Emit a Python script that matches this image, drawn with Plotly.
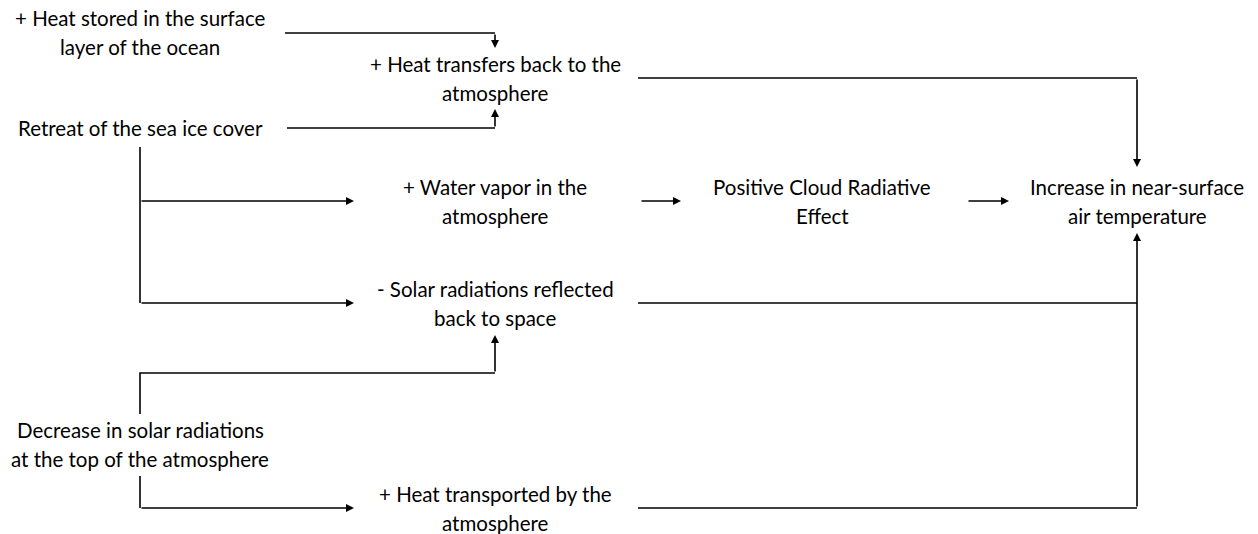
import plotly.graph_objects as go

# Node labels (each entry = list of text lines) and their centre positions (pixel canvas)
node_ids = ["ocean", "transfer", "seaice", "vapor", "cloud", "temp", "solarref", "solartop", "transport"]
node_lines = [
    ["+ Heat stored in the surface", "layer of the ocean"],
    ["+ Heat transfers back to the", "atmosphere"],
    ["Retreat of the sea ice cover"],
    ["+ Water vapor in the", "atmosphere"],
    ["Positive Cloud Radiative", "Effect"],
    ["Increase in near-surface", "air temperature"],
    ["- Solar radiations reflected", "back to space"],
    ["Decrease in solar radiations", "at the top of the atmosphere"],
    ["+ Heat transported by the", "atmosphere"],
]
node_x = [140, 495, 140, 495, 822, 1137, 495, 140, 495]
node_y = [32, 78, 128, 201, 201, 201, 303, 444, 508]

# Connector routes: waypoints; last segment carries arrow if arrow flag True
edge_paths = [
    [(285, 33), (495, 33), (495, 48)],
    [(287, 128), (495, 128), (495, 109)],
    [(638, 78), (1137, 78), (1137, 167)],
    [(140, 147), (140, 303)],
    [(140, 201), (354, 201)],
    [(140, 303), (354, 303)],
    [(640, 201), (681, 201)],
    [(967, 201), (1009, 201)],
    [(638, 303), (1137, 303)],
    [(638, 508), (1137, 508)],
    [(1137, 508), (1137, 233)],
    [(140, 414), (140, 373), (495, 373), (495, 335)],
    [(140, 476), (140, 508), (354, 508)],
]
edge_arrow = [True, True, True, False, True, True, True, True, False, False, True, True, True]

LINE_SPACING = 29
FONT = dict(family="Lato, Carlito, Noto Sans, sans-serif", size=20.5, color="#000000")

fig = go.Figure()
annotations = []

for path, arrow in zip(edge_paths, edge_arrow):
    pts = path[:-1] if arrow else path
    if len(pts) >= 2:
        fig.add_trace(go.Scatter(
            x=[p[0] for p in pts], y=[p[1] for p in pts], mode="lines",
            line=dict(color="#000000", width=1.6), hoverinfo="skip", showlegend=False))
    if arrow:
        (x0, y0), (x1, y1) = path[-2], path[-1]
        annotations.append(dict(
            x=x1, y=y1, ax=x0, ay=y0, xref="x", yref="y", axref="x", ayref="y",
            showarrow=True, arrowhead=2, arrowsize=1.0, arrowwidth=1.6,
            arrowcolor="#000000", standoff=0, startstandoff=0, text=""))

for lines, cx, cy in zip(node_lines, node_x, node_y):
    n = len(lines)
    for i, t in enumerate(lines):
        yy = cy + (i - (n - 1) / 2) * LINE_SPACING
        annotations.append(dict(
            x=cx, y=yy, xref="x", yref="y", text=t, showarrow=False,
            xanchor="center", yanchor="middle", font=FONT))

fig.update_layout(
    width=1258, height=534,
    margin=dict(l=0, r=0, t=0, b=0),
    paper_bgcolor="white", plot_bgcolor="white",
    xaxis=dict(range=[0, 1258], visible=False, fixedrange=True),
    yaxis=dict(range=[534, 0], visible=False, fixedrange=True),
    annotations=annotations,
    showlegend=False,
)
fig.write_html("out.html", config={"displayModeBar": False},
               post_script="document.body.style.margin='0';document.body.style.overflow='hidden';")
